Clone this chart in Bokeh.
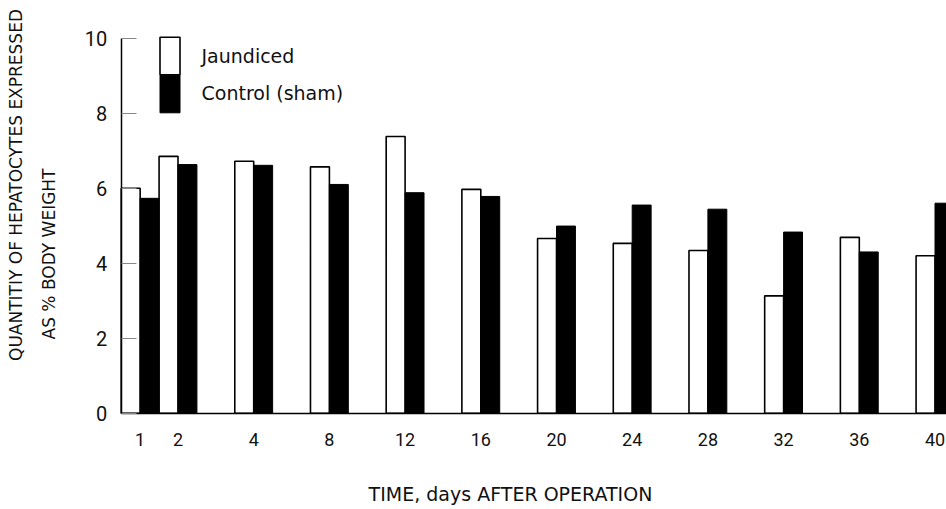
import math
from bokeh.plotting import figure
from bokeh.models import (ColumnDataSource, Range1d, FixedTicker, Label,
                          Legend, LegendItem, LinearAxis)
from bokeh.embed import file_html
from bokeh.resources import INLINE

# ---- data -------------------------------------------------------------
days = [1, 2, 4, 8, 12, 16, 20, 24, 28, 32, 36, 40]
jaundiced = [6.0, 6.85, 6.72, 6.57, 7.38, 5.97, 4.66, 4.53, 4.34, 3.13, 4.69, 4.2]
control = [5.73, 6.63, 6.61, 6.1, 5.88, 5.78, 4.99, 5.55, 5.44, 4.83, 4.3, 5.6]
y_ticks = [0, 2, 4, 6, 8, 10]
series_names = ["Jaundiced", "Control (sham)"]
x_title = "TIME, days AFTER OPERATION"
y_title = ["QUANTITIY OF HEPATOCYTES EXPRESSED", "AS % BODY WEIGHT"]

# ---- layout helpers -----------------------------------------------------
def slot(d):
    # the original spaces days 4..40 evenly, with days 1 and 2 squeezed in
    return d / 4 if d >= 4 else (d - 2) / 2

slots = [slot(d) for d in days]
BW = 0.25
src = ColumnDataSource(dict(
    xj=[s - BW / 2 for s in slots],
    xc=[s + BW / 2 for s in slots],
    j=jaundiced,
    c=control,
))

W, H = 946, 509
X0PX, PXS = 177.5, 75.7     # pixel of slot 0, pixels per slot
Y0PX, PYU = 412.7, 37.5     # pixel of y=0, pixels per unit
AXIS_X = -0.75

def px_to_x(px):
    return (px - X0PX) / PXS

def py_to_y(py):
    return (Y0PX - py) / PYU

NUM_FONT = "Roboto"
TXT_FONT = "DejaVu Sans"
INK = "#111111"

p = figure(width=W, height=H, output_backend="svg", toolbar_location=None,
           x_range=Range1d(px_to_x(0), px_to_x(W)),
           y_range=Range1d(py_to_y(H), py_to_y(0)),
           x_axis_location=None, y_axis_location=None, min_border=0)
p.outline_line_color = None
p.xgrid.visible = False
p.ygrid.visible = False

rj = p.vbar(x="xj", top="j", width=BW, bottom=0, source=src,
            fill_color="white", line_color="black", line_width=1.6)
rc = p.vbar(x="xc", top="c", width=BW, bottom=0, source=src,
            fill_color="black", line_color="black", line_width=1.0)

# x axis (fixed at y = 0)
xaxis = LinearAxis(fixed_location=0, bounds=(AXIS_X, px_to_x(W)),
                   ticker=FixedTicker(ticks=slots),
                   major_label_overrides={s: str(d) for s, d in zip(slots, days)})
xaxis.major_tick_line_color = None
xaxis.minor_tick_line_color = None
xaxis.axis_line_width = 1.5
xaxis.axis_line_color = "black"
xaxis.major_label_standoff = 14
xaxis.major_label_text_font = NUM_FONT
xaxis.major_label_text_font_size = "18px"
xaxis.major_label_text_color = INK
p.add_layout(xaxis, "below")

# y axis (fixed at left edge of first bar pair)
yaxis = LinearAxis(fixed_location=AXIS_X, bounds=(0, 10),
                   ticker=FixedTicker(ticks=y_ticks))
yaxis.major_tick_in = 15
yaxis.major_tick_out = 0
yaxis.major_tick_line_color = "#888888"
yaxis.major_tick_line_width = 1
yaxis.minor_tick_line_color = None
yaxis.axis_line_width = 1.5
yaxis.axis_line_color = "black"
yaxis.major_label_standoff = 14
yaxis.major_label_text_font = NUM_FONT
yaxis.major_label_text_font_size = "20px"
yaxis.major_label_text_color = INK
p.add_layout(yaxis, "left")

# legends: two single-item legends so that the swatches stack touching
common = dict(glyph_height=47, glyph_width=25, padding=0, margin=0,
              label_standoff=20, border_line_color=None,
              background_fill_alpha=0, label_text_font=TXT_FONT,
              label_text_font_size="19px", label_text_color=INK)
leg1 = Legend(items=[LegendItem(label=series_names[0], renderers=[rj])],
              location=(156.5, H - 79.3), **common)
leg2 = Legend(items=[LegendItem(label=series_names[1], renderers=[rc])],
              location=(156.5, H - 116.9), **common)
p.add_layout(leg1)
p.add_layout(leg2)

# titles
p.add_layout(Label(x=px_to_x(510), y=py_to_y(493), text=x_title,
                   text_align="center", text_baseline="middle",
                   text_font=TXT_FONT, text_font_size="19px",
                   text_color=INK))
p.add_layout(Label(x=px_to_x(15), y=py_to_y(184.5), text=y_title[0],
                   angle=math.pi / 2, text_align="center", text_baseline="middle",
                   text_font=TXT_FONT, text_font_size="17px",
                   text_color=INK))
p.add_layout(Label(x=px_to_x(48), y=py_to_y(253.5), text=y_title[1],
                   angle=math.pi / 2, text_align="center", text_baseline="middle",
                   text_font=TXT_FONT, text_font_size="17px",
                   text_color=INK))

open("out.html", "w").write(file_html(p, INLINE))
